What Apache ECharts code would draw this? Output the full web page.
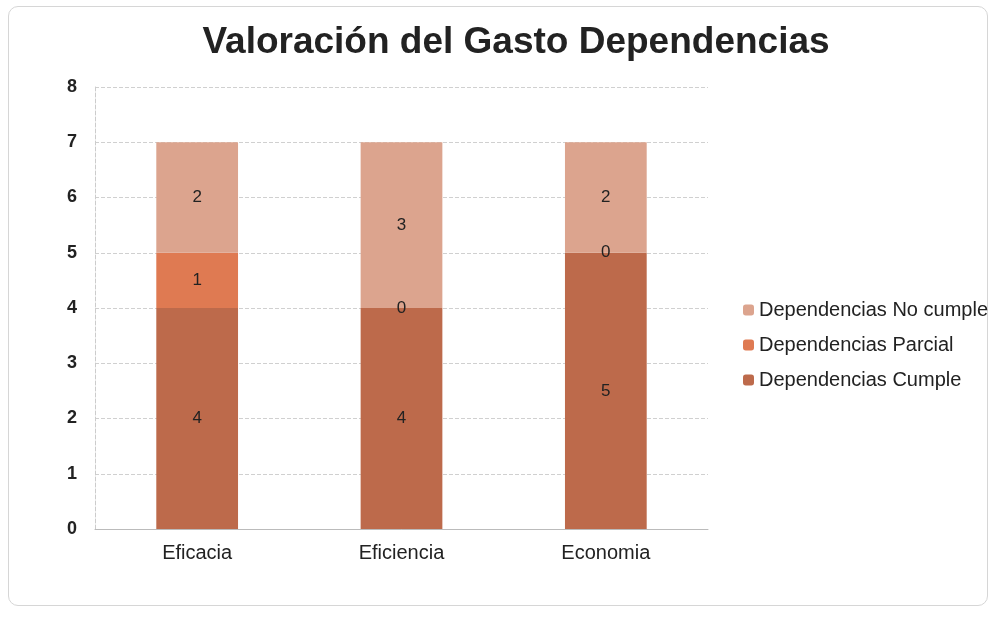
<!DOCTYPE html>
<html>
<head>
<meta charset="utf-8">
<script src="https://cdn.jsdelivr.net/npm/echarts@6/dist/echarts.min.js"></script>
<style>
  html, body { margin: 0; padding: 0; background: #fff; }
  #frame {
    position: absolute; left: 8px; top: 6px; width: 980px; height: 600px;
    border: 1px solid #d6d6d6; border-radius: 10px; box-sizing: border-box;
  }
  #main { position: absolute; left: 0; top: 0; width: 998px; height: 617px; }
</style>
</head>
<body>
<div id="frame"></div>
<div id="main"></div>
<script>
// datos del grafico
var categories = ["Eficacia", "Eficiencia", "Economia"];
var seriesNames = ["Dependencias Cumple", "Dependencias Parcial", "Dependencias No cumple"];
var cumple = [4, 4, 5];
var parcial = [1, 0, 0];
var noCumple = [2, 3, 2];
var yTicks = [0, 1, 2, 3, 4, 5, 6, 7, 8];

var colors = ["#bd6a4b", "#df7a52", "#dca48e"];
var myChart = echarts.init(document.getElementById("main"));

function barSeries(name, data, color) {
  return {
    name: name,
    type: "bar",
    stack: "total",
    barWidth: "40%",
    itemStyle: { color: color },
    label: {
      show: true,
      position: "inside",
      color: "#222",
      fontSize: 17,
      fontFamily: "Liberation Sans, Arial"
    },
    data: data
  };
}

myChart.setOption({
  animation: false,
  title: {
    text: "Valoración del Gasto Dependencias",
    left: 511,
    textAlign: "center",
    top: 19,
    textStyle: {
      fontSize: 37,
      fontWeight: "bold",
      color: "#222",
      fontFamily: "Liberation Sans, Arial"
    }
  },
  legend: {
    orient: "vertical",
    left: 738,
    top: 295,
    itemWidth: 11,
    itemHeight: 11,
    itemGap: 15,
    data: [seriesNames[2], seriesNames[1], seriesNames[0]],
    textStyle: { fontSize: 20, color: "#222", fontFamily: "Liberation Sans, Arial" }
  },
  grid: { left: 95, right: 290, top: 87, bottom: 88 },
  xAxis: {
    type: "category",
    data: categories,
    axisTick: { show: false },
    axisLine: { show: true, lineStyle: { color: "#bbb" } },
    axisLabel: { fontSize: 20, color: "#222", margin: 14, fontFamily: "Liberation Sans, Arial" }
  },
  yAxis: {
    type: "value",
    min: yTicks[0],
    max: yTicks[yTicks.length - 1],
    interval: 1,
    axisTick: { show: false },
    axisLine: { show: true, lineStyle: { color: "#ccc", type: "dashed" } },
    axisLabel: { fontSize: 18, fontWeight: "bold", color: "#222", margin: 18, fontFamily: "Liberation Sans, Arial" },
    splitLine: { show: true, lineStyle: { color: "#d0d0d0", type: "dashed" } }
  },
  series: [
    barSeries(seriesNames[0], cumple, colors[0]),
    barSeries(seriesNames[1], parcial, colors[1]),
    barSeries(seriesNames[2], noCumple, colors[2])
  ]
});
</script>
</body>
</html>
